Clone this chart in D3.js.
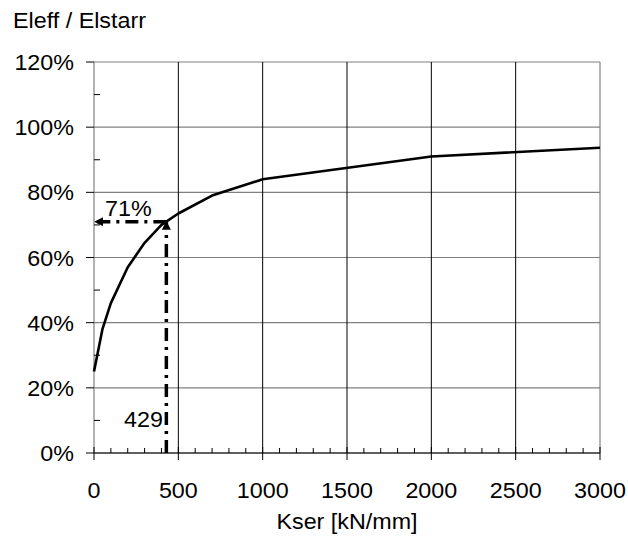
<!DOCTYPE html>
<html>
<head>
<meta charset="utf-8">
<script src="https://cdn.jsdelivr.net/npm/d3@7"></script>
<style>
  html, body { margin: 0; padding: 0; background: #fff; }
  svg text { font-family: "Liberation Sans", Arial, sans-serif; fill: #000; }
</style>
</head>
<body>
<svg id="chart" width="628" height="536"></svg>
<script>
// Effective stiffness ratio vs. slip modulus
const kser  = [0, 50, 100, 200, 300, 400, 500, 700, 1000, 2000, 3000];
const ratio = [0.25, 0.38, 0.46, 0.57, 0.645, 0.70, 0.735, 0.79, 0.84, 0.91, 0.937];

const xTicks = [0, 500, 1000, 1500, 2000, 2500, 3000];
const yTicks = [0, 0.2, 0.4, 0.6, 0.8, 1.0, 1.2];

// Highlighted reading
const markK = 429;
const markRatio = 0.71;

const yTitle = "Eleff / Elstarr";
const xTitle = "Kser [kN/mm]";

const svg = d3.select("#chart");
const x = d3.scaleLinear().domain([0, 3000]).range([94, 600]);
const y = d3.scaleLinear().domain([0, 1.2]).range([453, 62]);

const fs = 22, sx = 1.06;
function label(g, px, py, txt, anchor) {
  const t = g.append("text")
    .attr("transform", `translate(${px},${py}) scale(${sx},1)`)
    .attr("font-size", fs)
    .attr("text-anchor", anchor || "start")
    .text(txt);
  return t;
}

// horizontal grid lines
svg.append("g").selectAll("line").data(yTicks).join("line")
  .attr("x1", x(0)).attr("x2", x(3000))
  .attr("y1", d => y(d)).attr("y2", d => y(d))
  .attr("stroke", "#808080").attr("stroke-width", 1.2);

// vertical grid lines
svg.append("g").selectAll("line").data(xTicks.filter(d => d > 0 && d < 3000)).join("line")
  .attr("x1", d => x(d)).attr("x2", d => x(d))
  .attr("y1", y(1.2)).attr("y2", y(0))
  .attr("stroke", "#000").attr("stroke-width", 1);
svg.append("line")
  .attr("x1", x(3000)).attr("x2", x(3000))
  .attr("y1", y(1.2)).attr("y2", y(0))
  .attr("stroke", "#808080").attr("stroke-width", 1.2);

// y axis
const yAxis = svg.append("g");
yAxis.append("line").attr("x1", x(0)).attr("x2", x(0))
  .attr("y1", y(1.2)).attr("y2", y(0)).attr("stroke", "#808080").attr("stroke-width", 1.2);
yAxis.selectAll(".maj").data(yTicks).join("line").attr("class", "maj")
  .attr("x1", x(0) - 8).attr("x2", x(0))
  .attr("y1", d => y(d)).attr("y2", d => y(d))
  .attr("stroke", "#000").attr("stroke-width", 1);
yAxis.selectAll(".min").data(d3.range(0.1, 1.2, 0.2)).join("line").attr("class", "min")
  .attr("x1", x(0)).attr("x2", x(0) + 6)
  .attr("y1", d => y(d)).attr("y2", d => y(d))
  .attr("stroke", "#000").attr("stroke-width", 1);
yTicks.forEach(d => label(yAxis, 74, y(d) + 8, d3.format(".0%")(d), "end"));

// x axis
const xAxis = svg.append("g");
xAxis.append("line").attr("x1", x(0)).attr("x2", x(3000))
  .attr("y1", y(0)).attr("y2", y(0)).attr("stroke", "#000").attr("stroke-width", 1.2);
xAxis.selectAll(".maj").data(xTicks).join("line").attr("class", "maj")
  .attr("x1", d => x(d)).attr("x2", d => x(d))
  .attr("y1", y(0) - 6).attr("y2", y(0) + 7)
  .attr("stroke", "#000").attr("stroke-width", 1);
xAxis.selectAll(".min").data(d3.range(100, 3000, 100).filter(d => d % 500)).join("line").attr("class", "min")
  .attr("x1", d => x(d)).attr("x2", d => x(d))
  .attr("y1", y(0) - 5).attr("y2", y(0))
  .attr("stroke", "#000").attr("stroke-width", 1);
xTicks.forEach(d => label(xAxis, x(d), 498, String(d), "middle"));

// titles
label(svg, 347, 529, xTitle, "middle");
label(svg, 13, 28, yTitle, "start");

// curve
const line = d3.line().x((d, i) => x(kser[i])).y(d => y(d));
svg.append("path").datum(ratio)
  .attr("d", line)
  .attr("fill", "none").attr("stroke", "#000").attr("stroke-width", 2.6)
  .attr("stroke-linejoin", "round");

// arrows marking the reading
const defs = svg.append("defs");
defs.append("marker").attr("id", "arr")
  .attr("viewBox", "0 0 10 10").attr("refX", 9).attr("refY", 5)
  .attr("markerUnits", "userSpaceOnUse")
  .attr("markerWidth", 9).attr("markerHeight", 9)
  .attr("orient", "auto")
  .append("path").attr("d", "M0,0 L10,5 L0,10 Z").attr("fill", "#000");

const dash = "13,6,3,6";
svg.append("line")
  .attr("x1", x(markK)).attr("y1", y(markRatio))
  .attr("x2", x(0) + 1).attr("y2", y(markRatio))
  .attr("stroke", "#000").attr("stroke-width", 3.5)
  .attr("stroke-dasharray", dash).attr("marker-end", "url(#arr)");
svg.append("line")
  .attr("x1", x(markK)).attr("y1", y(0))
  .attr("x2", x(markK)).attr("y2", y(markRatio))
  .attr("stroke", "#000").attr("stroke-width", 3.5)
  .attr("stroke-dasharray", dash).attr("marker-end", "url(#arr)");

label(svg, 105, 216, d3.format(".0%")(markRatio), "start");
label(svg, 163, 427, String(markK), "end");
</script>
</body>
</html>
